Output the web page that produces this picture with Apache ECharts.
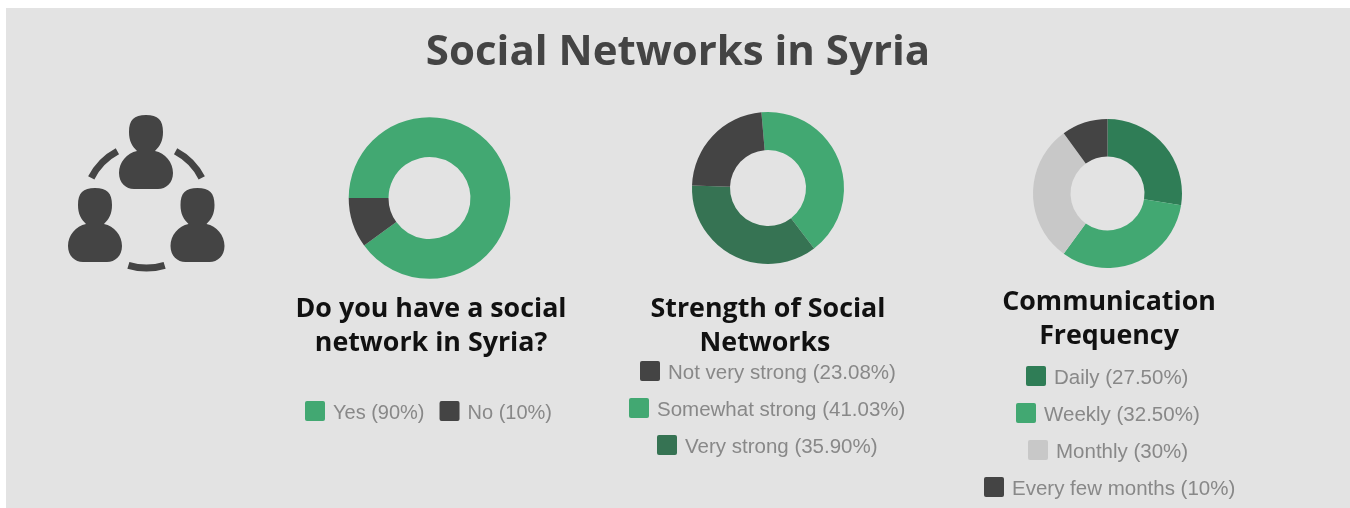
<!DOCTYPE html>
<html>
<head>
<meta charset="utf-8">
<style>html,body{margin:0;padding:0;background:#fff}#main{width:1350px;height:508px}</style>
<script src="https://cdn.jsdelivr.net/npm/echarts@6/dist/echarts.min.js"></script>
</head>
<body>
<div id="main"></div>
<script>
// Survey answers, one group of arrays per ring.
const networkNames = ['Yes (90%)', 'No (10%)'];
const networkValues = [90, 10];
const networkColors = ['#42a872', '#444444'];

const strengthNames = ['Somewhat strong (41.03%)', 'Very strong (35.90%)', 'Not very strong (23.08%)'];
const strengthValues = [41.03, 35.90, 23.08];
const strengthColors = ['#42a872', '#367353', '#444444'];

const frequencyNames = ['Daily (27.50%)', 'Weekly (32.50%)', 'Monthly (30%)', 'Every few months (10%)'];
const frequencyValues = [27.5, 32.5, 30, 10];
const frequencyColors = ['#2f7d56', '#42a872', '#c8c8c8', '#444444'];

const heading = 'Social Networks in Syria';
const networkTitle = 'Do you have a social\nnetwork in Syria?';
const strengthTitle = ['Strength of Social', 'Networks'];
const frequencyTitle = 'Communication\nFrequency';

const swatch = 'path://M2,0H18Q20,0 20,2V18Q20,20 18,20H2Q0,20 0,18V2Q0,0 2,0Z';
const ink = '#444444';

function ring(names, values, colors, center, radius, startAngle) {
  return {
    type: 'pie', center, radius, startAngle, silent: true, clockwise: true,
    label: { show: false }, labelLine: { show: false },
    data: names.map((name, i) => ({ name, value: values[i], itemStyle: { color: colors[i] } }))
  };
}

// Rich text carries the small downward nudge of each legend label.
function legendRow(names, left, top, gap, size) {
  return {
    left, top, data: names, orient: 'horizontal', selectedMode: false, padding: 0,
    icon: swatch, itemWidth: 20, itemHeight: 20, itemGap: gap || 10,
    formatter: '{t|{name}}',
    textStyle: {
      rich: { t: { color: '#888888', fontFamily: 'Liberation Sans', fontSize: size || 20.5, padding: [4, 0, 0, 3] } }
    }
  };
}

function subTitle(text, left, top) {
  return {
    text, left, top, textAlign: 'center', padding: 0,
    textStyle: { color: '#111111', fontFamily: 'Open Sans', fontWeight: 700, fontSize: 26.8, lineHeight: 34 }
  };
}

// One person of the icon: head on shoulders, drawn about a top-centre origin.
const personPath = 'M0,0C-12,0-17,5-17,17C-17,26-14,31-9,36C-19,38-27,47-27,58C-27,68-20,74-12,74L12,74C20,74 27,68 27,58C27,47 19,38 9,36C14,31 17,26 17,17C17,5 12,0 0,0Z';
echarts.graphic.registerShape('person', echarts.graphic.extendPath(personPath, {}));

function person(x, y) {
  return { type: 'person', x, y, style: { fill: ink } };
}

function link(fromDeg, toDeg) {
  return {
    type: 'arc',
    shape: { cx: 146.5, cy: 206, r: 62, startAngle: fromDeg * Math.PI / 180, endAngle: toDeg * Math.PI / 180, clockwise: true },
    style: { stroke: ink, lineWidth: 7, fill: null, lineCap: 'butt' }
  };
}

const chart = echarts.init(document.getElementById('main'));
chart.setOption({
  animation: false,
  backgroundColor: '#ffffff',
  title: [
    { text: heading, left: 678, top: 23, textAlign: 'center', padding: 0,
      textStyle: { color: ink, fontFamily: 'Open Sans', fontWeight: 700, fontSize: 42, lineHeight: 60 } },
    subTitle(networkTitle, 431, 292),
    subTitle(strengthTitle[0], 768, 292),
    subTitle(strengthTitle[1], 765, 326),
    subTitle(frequencyTitle, 1109, 285)
  ],
  legend: [
    legendRow(networkNames, 305, 401, 15, 20),
    legendRow([strengthNames[2]], 640, 361),
    legendRow([strengthNames[0]], 629, 398),
    legendRow([strengthNames[1]], 657, 435),
    legendRow([frequencyNames[0]], 1026, 366),
    legendRow([frequencyNames[1]], 1016, 403),
    legendRow([frequencyNames[2]], 1028, 440),
    legendRow([frequencyNames[3]], 984, 477)
  ],
  series: [
    ring(networkNames, networkValues, networkColors, [429.5, 198], [41, 80.8], 180),
    ring(strengthNames, strengthValues, strengthColors, [768, 188], [38, 76], 95),
    ring(frequencyNames, frequencyValues, frequencyColors, [1107.5, 193.5], [37, 74.5], 90)
  ],
  graphic: [
    { type: 'rect', z: -10, shape: { x: 6, y: 8, width: 1344, height: 500 }, style: { fill: '#e3e3e3' } },
    person(146, 115), person(95, 188), person(197.5, 188),
    link(207, 242), link(298, 333), link(73, 107)
  ]
});
</script>
</body>
</html>
